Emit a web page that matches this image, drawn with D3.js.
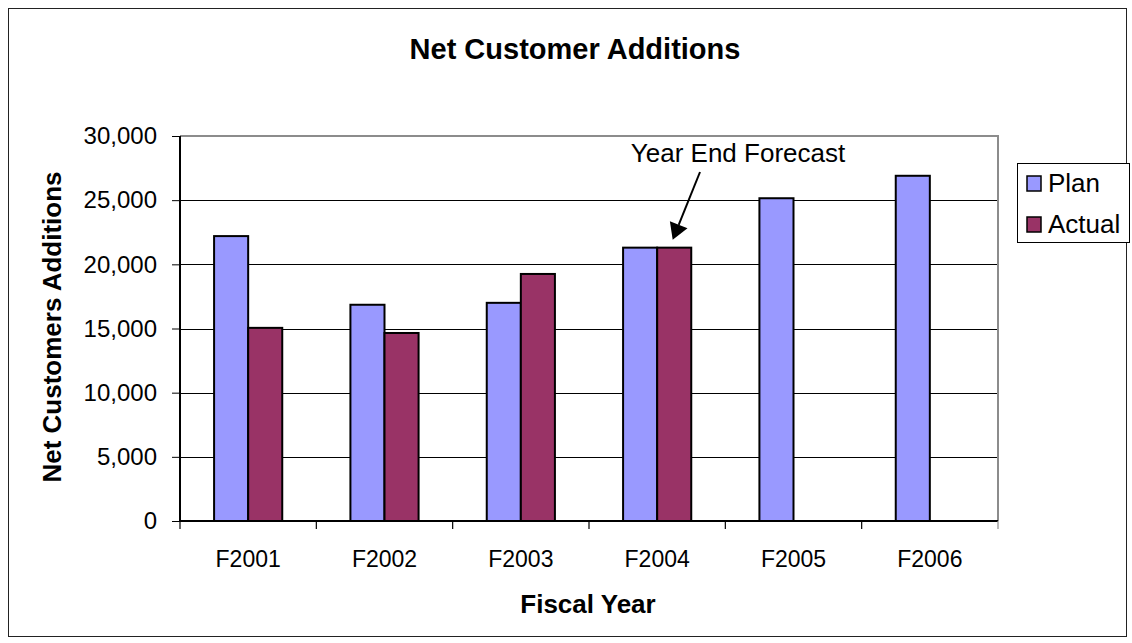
<!DOCTYPE html>
<html>
<head>
<meta charset="utf-8">
<script src="https://cdn.jsdelivr.net/npm/d3@7"></script>
<style>
  html, body { margin: 0; padding: 0; background: #fff; }
  svg { display: block; font-family: "Liberation Sans", Arial, sans-serif; }
</style>
</head>
<body>
<svg id="chart" width="1132" height="643"></svg>
<script>
// Fiscal years and series values (net customer additions)
const categories = ["F2001", "F2002", "F2003", "F2004", "F2005", "F2006"];
const seriesNames = ["Plan", "Actual"];
const planValues = [22200, 16850, 17000, 21300, 25150, 26900];
const actualValues = [15050, 14650, 19250, 21300, null, null];
const yTicks = [0, 5000, 10000, 15000, 20000, 25000, 30000];
const colors = ["#9999FF", "#993366"];

const svg = d3.select("#chart");
const W = 1132, H = 643;

// outer chart frame
svg.append("rect")
  .attr("x", 8.5).attr("y", 8.5)
  .attr("width", W - 14).attr("height", H - 15)
  .attr("fill", "#fff").attr("stroke", "#222").attr("stroke-width", 1);

const plot = { left: 180, right: 998, top: 136, bottom: 521 };

const x = d3.scaleBand()
  .domain(categories)
  .range([plot.left, plot.right])
  .paddingInner(0.5)
  .paddingOuter(0.25);

const x1 = d3.scaleBand()
  .domain(seriesNames)
  .range([0, x.bandwidth()]);

const y = d3.scaleLinear()
  .domain([0, 30000])
  .range([plot.bottom, plot.top]);

// gridlines
svg.append("g")
  .selectAll("line")
  .data(yTicks.filter(t => t > 0 && t < 30000))
  .join("line")
  .attr("x1", plot.left).attr("x2", plot.right)
  .attr("y1", d => Math.round(y(d)) + 0.5).attr("y2", d => Math.round(y(d)) + 0.5)
  .attr("stroke", "#000").attr("stroke-width", 1);

// plot area top and right border
svg.append("path")
  .attr("d", `M${plot.left},${plot.top} H${plot.right} V${plot.bottom}`)
  .attr("fill", "none").attr("stroke", "#8c8c8c").attr("stroke-width", 2);

// bars
const rows = categories.map((c, i) => ({
  cat: c,
  vals: [
    { s: "Plan", v: planValues[i], c: colors[0] },
    { s: "Actual", v: actualValues[i], c: colors[1] }
  ].filter(d => d.v != null)
}));

const groups = svg.append("g").selectAll("g")
  .data(rows)
  .join("g")
  .attr("transform", d => `translate(${x(d.cat)},0)`);

groups.selectAll("rect")
  .data(d => d.vals)
  .join("rect")
  .attr("x", d => x1(d.s))
  .attr("y", d => y(d.v))
  .attr("width", x1.bandwidth())
  .attr("height", d => y(0) - y(d.v))
  .attr("fill", d => d.c)
  .attr("stroke", "#000")
  .attr("stroke-width", 2);

// y axis
const yAxis = d3.axisLeft(y)
  .tickValues(yTicks)
  .tickSize(8)
  .tickPadding(15)
  .tickFormat(d3.format(","));

const gy = svg.append("g")
  .attr("transform", `translate(${plot.left},0)`)
  .call(yAxis);
gy.select(".domain").attr("stroke", "#000").attr("stroke-width", 2)
  .attr("d", `M0,${plot.top}V${plot.bottom}`);
gy.selectAll(".tick line").attr("stroke", "#000");
gy.selectAll(".tick text")
  .attr("font-size", 24).attr("fill", "#000")
  .attr("font-family", "Liberation Sans, Arial, sans-serif");

// x axis with ticks at category boundaries
const gx = svg.append("g")
  .attr("transform", `translate(0,${plot.bottom})`);
gx.append("line")
  .attr("x1", plot.left).attr("x2", plot.right)
  .attr("stroke", "#000").attr("stroke-width", 2);
const step = x.step();
const bounds = d3.range(categories.length + 1).map(i => plot.left + i * step);
gx.selectAll(".xt")
  .data(bounds)
  .join("line")
  .attr("class", "xt")
  .attr("x1", d => d).attr("x2", d => d)
  .attr("y1", 0).attr("y2", 8)
  .attr("stroke", (d, i) => i === categories.length ? "#8c8c8c" : "#000")
  .attr("stroke-width", 1.2);
gx.selectAll(".xl")
  .data(categories)
  .join("text")
  .attr("class", "xl")
  .attr("x", d => x(d) + x.bandwidth() / 2)
  .attr("y", 46)
  .attr("text-anchor", "middle")
  .attr("font-size", 23)
  .text(d => d);

// titles
svg.append("text")
  .attr("x", 575).attr("y", 59)
  .attr("text-anchor", "middle")
  .attr("font-size", 29).attr("font-weight", "bold")
  .text("Net Customer Additions");

svg.append("text")
  .attr("x", 588).attr("y", 613)
  .attr("text-anchor", "middle")
  .attr("font-size", 26).attr("font-weight", "bold")
  .text("Fiscal Year");

svg.append("text")
  .attr("transform", `translate(61,327) rotate(-90)`)
  .attr("text-anchor", "middle")
  .attr("font-size", 26).attr("font-weight", "bold")
  .text("Net Customers Additions");

// annotation for the forecast bar
const ann = svg.append("g");
ann.append("text")
  .attr("x", 738).attr("y", 162)
  .attr("text-anchor", "middle")
  .attr("font-size", 26)
  .text("Year End Forecast");
const tipX = x("F2004") + x1("Actual") + x1.bandwidth() / 2 - 1.5;
const tipY = y(actualValues[3]) - 8;
const startX = 700, startY = 172;
const ang = Math.atan2(tipY - startY, tipX - startX);
const headLen = 16, headW = 9.5;
const bx = tipX - headLen * Math.cos(ang), by = tipY - headLen * Math.sin(ang);
ann.append("line")
  .attr("x1", startX).attr("y1", startY)
  .attr("x2", bx).attr("y2", by)
  .attr("stroke", "#000").attr("stroke-width", 2);
ann.append("path")
  .attr("d", `M${tipX},${tipY} L${bx + headW * Math.sin(ang)},${by - headW * Math.cos(ang)} L${bx - headW * Math.sin(ang)},${by + headW * Math.cos(ang)} Z`)
  .attr("fill", "#000");

// legend
const lg = svg.append("g");
lg.append("rect")
  .attr("x", 1017.5).attr("y", 163.5)
  .attr("width", 112).attr("height", 79)
  .attr("fill", "#fff").attr("stroke", "#000").attr("stroke-width", 1);
const li = lg.selectAll(".li")
  .data(seriesNames)
  .join("g")
  .attr("class", "li")
  .attr("transform", (d, i) => `translate(1027,${176 + i * 41})`);
li.append("rect")
  .attr("width", 14).attr("height", 15)
  .attr("fill", (d, i) => colors[i])
  .attr("stroke", "#000").attr("stroke-width", 1.5);
li.append("text")
  .attr("x", 21).attr("y", 16)
  .attr("font-size", 26)
  .text(d => d);
</script>
</body>
</html>
